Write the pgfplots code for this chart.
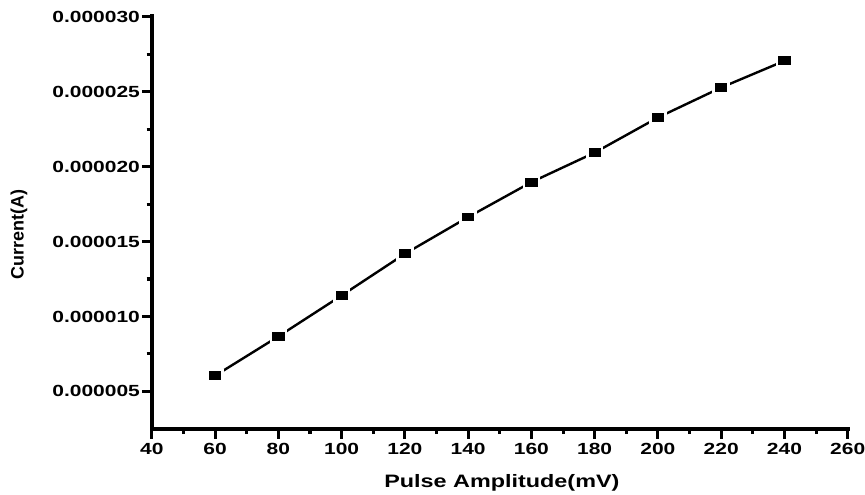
\documentclass[border=0pt]{standalone}
\usepackage{fontspec}
\setmainfont{Liberation Sans}[FakeStretch=1.3]
\newfontfamily\ylfont{Liberation Sans}
\usepackage{pgfplots}
\pgfplotsset{compat=1.18}
\begin{document}
\begin{tikzpicture}
\begin{axis}[
  name=ax,
  scale only axis,
  width=522.2pt, height=309.4pt,
  xmin=40, xmax=260, ymin=2.5e-6, ymax=3e-5,
  axis lines=left,
  axis line style={-, line width=3.3pt, line cap=rect},
  xtick={40,60,...,260},
  ytick={5e-6,1e-5,1.5e-5,2e-5,2.5e-5,3e-5},
  minor x tick num=1, minor y tick num=1,
  tick align=outside,
  major tick length=7.5pt, minor tick length=4pt,
  every tick/.style={black, line width=2.3pt},
  scaled y ticks=false,
  yticklabel style={xshift=2pt, /pgf/number format/.cd, fixed, fixed zerofill, precision=6, assume math mode=true},
  xticklabel style={/pgf/number format/assume math mode=true},
  tick label style={font=\fontsize{12.1}{14}\selectfont\bfseries},
  xlabel={Pulse Amplitude(mV)},
  xlabel style={at={(axis description cs:0.503,-0.131)}, anchor=center, font=\fontsize{13.5}{16}\selectfont\bfseries},
  ylabel={\ylfont\bfseries Current(A)},
  ylabel style={at={(axis description cs:-0.191,0.471)}, anchor=center, font=\fontsize{13.5}{15}\selectfont},
  clip=false,
]
\addplot[black, line width=1.8pt, mark=square*, mark size=4.3pt,
  mark options={xscale=1.3, draw=white, line width=2pt, fill=black}]
  coordinates {
  (60,6.05e-6) (80,8.67e-6) (100,11.4e-6) (120,14.18e-6) (140,16.63e-6)
  (160,18.96e-6) (180,20.93e-6) (200,23.27e-6) (220,25.27e-6) (240,27.05e-6)
  };
\end{axis}
\pgfresetboundingbox
\useasboundingbox ([shift={(-114pt,-49.35pt)}]ax.south west) rectangle ([shift={(13pt,12.5pt)}]ax.north east);
\end{tikzpicture}
\end{document}
